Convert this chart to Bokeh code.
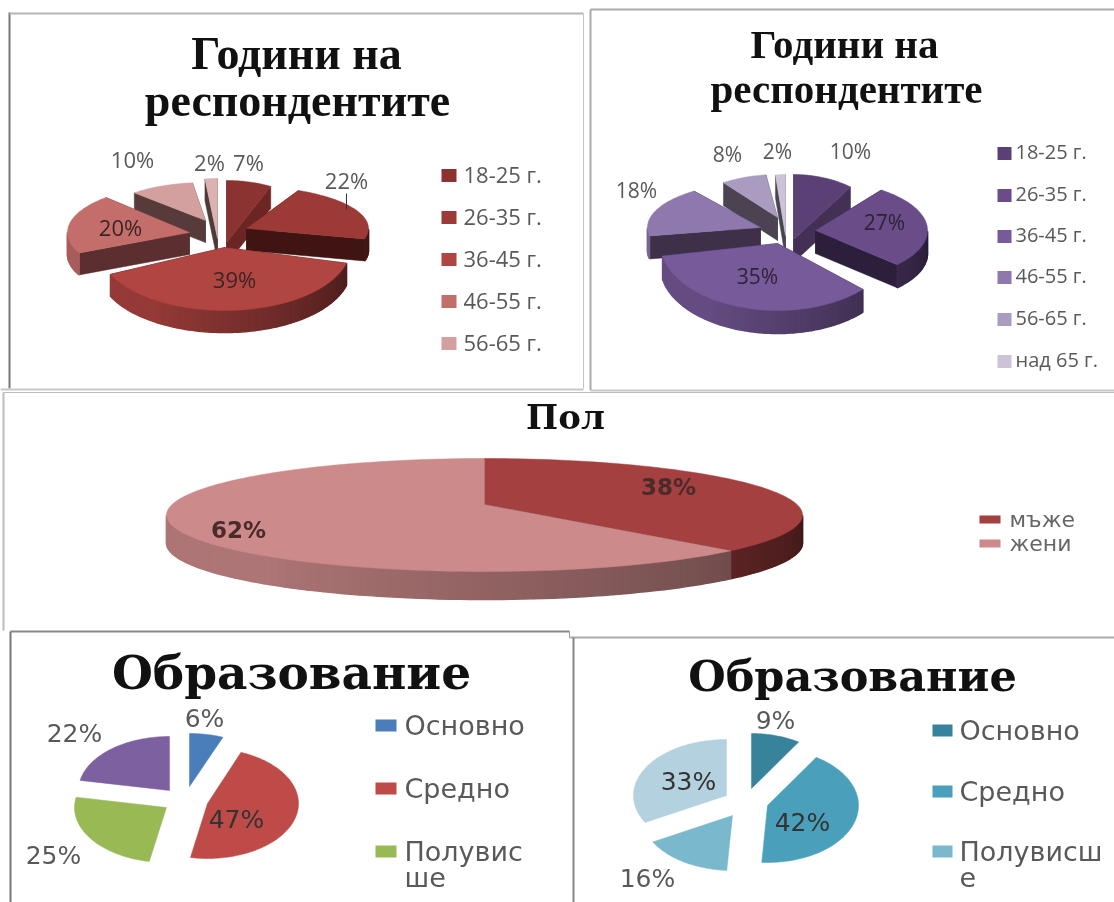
import math
from bokeh.plotting import figure
from bokeh.models import Range1d
from bokeh.core.properties import value
from bokeh.embed import file_html
from bokeh.resources import INLINE

# ---------- data ----------
age_cats_a = ["18-25 г.", "26-35 г.", "36-45 г.", "46-55 г.", "56-65 г."]
age_vals_a = [7, 22, 39, 20, 10, 2]
age_cats_b = ["18-25 г.", "26-35 г.", "36-45 г.", "46-55 г.", "56-65 г.", "над 65 г."]
age_vals_b = [10, 27, 35, 18, 8, 2]
sex_cats = ["мъже", "жени"]
sex_vals = [38, 62]
edu_cats_a = ["Основно", "Средно", "Полувис\nше"]
edu_vals_a = [6, 47, 25, 22]
edu_cats_b = ["Основно", "Средно", "Полувисш\nе"]
edu_vals_b = [9, 42, 16, 33]
title_age = ["Години на", "респондентите"]
title_sex = "Пол"
title_edu = "Образование"

# ---------- styles ----------
red_cols = ["#8a3330", "#9c3a37", "#b04542", "#c46e6c", "#d4a09f", "#dcb2b1"]
red_faces = ["#6b2624", "#3f1412", "#3f1412", "#5b2f2f", "#573a3a", "#4f3a3a"]
pur_cols = ["#5a4075", "#694c88", "#775a9a", "#8e78ad", "#aa9cc1", "#ccc3d8"]
pur_faces = ["#433055", "#2c1f3c", "#3a2a4d", "#3d3048", "#4b4252", "#4a4452"]
sex_cols = ["#a54040", "#cc8a8a"]
sex_faces = ["#45180f", "#4f3636"]
edu_cols_a = ["#4a7ebb", "#be4b48", "#98b954", "#7d60a0"]
edu_cols_b = ["#37839c", "#4aa0ba", "#7ab8ce", "#b3d1de"]

p = figure(width=1114, height=902, x_range=Range1d(0, 1114), y_range=Range1d(902, 0),
           toolbar_location=None, output_backend="svg", min_border=0,
           x_axis_type=None, y_axis_type=None)
p.outline_line_color = None
p.background_fill_color = "white"
p.border_fill_color = "white"


def shade(col, f):
    r, g, b = int(col[1:3], 16), int(col[3:5], 16), int(col[5:7], 16)
    return "#%02x%02x%02x" % (int(r * f), int(g * f), int(b * f))


def rim_factor(t):
    u = (t - 90) / 180
    return 0.38 + 0.47 * min(u / 0.7, 1)


def pie(vals, cols, faces, cx, cy, offs, rxs, rys, depth=0, tip=(0, 0), warp=0):
    total = sum(vals)
    spans, a = [], 0.0
    for v in vals:
        spans.append((a, a + 360 * v / total))
        a += 360 * v / total
    order = sorted(range(len(vals)), key=lambda i: -abs(sum(spans[i]) / 2 - 180))
    for i in order:
        a0, a1 = spans[i]
        ox, oy = offs[i]
        rx, ry = rxs[i], rys[i]
        n = max(4, int((a1 - a0) / 1.5))
        ts = [a0 + (a1 - a0) * k / n for k in range(n + 1)]
        warped = [t + warp * math.sin(math.radians(2 * t)) for t in ts]
        xs = [cx + ox + rx * math.sin(math.radians(t)) for t in warped]
        ys = [cy + oy - ry * math.cos(math.radians(t)) for t in warped]
        tx, ty = cx + ox + tip[0], cy + oy + tip[1]
        if depth:
            for ex, ey in ((xs[0], ys[0]), (xs[-1], ys[-1])):
                qx = [tx, ex, ex, tx]
                qy = [ty, ey, ey + depth, ty + depth]
                p.patch(qx, qy, fill_color=faces[i], line_color=faces[i], line_width=0.5)
            qxs, qys, qcs = [], [], []
            for k in range(n):
                mid = (ts[k] + ts[k + 1]) / 2
                if 90 <= mid <= 270:
                    qxs.append([xs[k], xs[k + 1], xs[k + 1], xs[k]])
                    qys.append([ys[k], ys[k + 1], ys[k + 1] + depth, ys[k] + depth])
                    qcs.append(shade(cols[i], rim_factor(mid)))
            if qxs:
                p.patches(qxs, qys, fill_color=qcs, line_color=qcs, line_width=1.5)
        p.patch([tx] + xs, [ty] + ys, fill_color=cols[i], line_color=cols[i], line_width=0.5)


def labels(xs, ys, txt, size, font="Open Sans", color="#595959", style="normal"):
    lift = 2 if font == "Open Sans" else 0
    p.text(x=xs, y=[y - lift for y in ys], text=txt, text_font=value(font), text_font_size=f"{size}px",
           text_color=color, text_align="center", text_baseline="middle",
           text_font_style=style)


def legend(cats, cols, x0, w, h, ys, tx, size, font="Open Sans", color="#595959", line_gap=26):
    lift = 2 if font == "Open Sans" else 0
    p.rect(x=[x0 + w / 2] * len(cats), y=ys[:len(cats)], width=w, height=h, fill_color=cols[:len(cats)],
           line_color=None)
    for c, y in zip(cats, ys):
        for j, part in enumerate(c.split("\n")):
            p.text(x=[tx], y=[y - lift + j * line_gap], text=[part], text_font=value(font),
                   text_font_size=f"{size}px", text_color=color, text_align="left",
                   text_baseline="middle")


def title(x, y, txt, size, font="Liberation Serif"):
    p.text(x=[x], y=[y], text=[txt], text_font=value(font), text_font_size=f"{size}px",
           text_font_style="bold", text_color="#111111", text_align="center", text_baseline="middle")


# ---------- frames ----------
frames = [([9, 9], [12, 388], "#777777", 2), ([9, 583], [13, 13], "#b5b5b5", 2), ([583, 583], [13, 388], "#c4c4c4", 1),
          ([0, 583], [389, 389], "#c8c8c8", 2),
          ([590, 590], [9, 390], "#aaaaaa", 2), ([590, 1114], [9, 9], "#aaaaaa", 2), ([590, 1114], [390, 390], "#c8c8c8", 2),
          ([3, 3], [392, 630], "#bbbbbb", 2), ([3, 1114], [392, 392], "#bbbbbb", 1),
          ([10, 569], [631, 631], "#888888", 2), ([569, 569], [631, 637], "#999999", 1),
          ([10, 10], [631, 902], "#777777", 2), ([569, 1114], [637, 637], "#aaaaaa", 2),
          ([573, 573], [637, 902], "#888888", 2)]
for fx, fy, fc, fw in frames:
    p.line(fx, fy, line_color=fc, line_width=fw)

# ---------- chart 1 ----------
title(296, 53, title_age[0], 46)
title(297, 100, title_age[1], 46)
pie(age_vals_a, red_cols, red_faces, 224, 247,
    [(2, -5), (22, -19), (0, 0), (-35, -15), (-19, -27), (-7, -9)],
    [104, 122, 126, 122, 104, 100], [62, 42, 63, 48, 38, 60], depth=22)
p.line([346, 346], [193, 209], line_color="#333333", line_width=1)
labels([248, 346, 132, 209], [163, 181, 160, 163], ["7%", "22%", "10%", "2%"], 22)
labels([234, 120], [280, 228], ["39%", "20%"], 22, color="#3a2424")
legend(age_cats_a, red_cols, 441, 15, 13, [175, 217, 259, 301, 343], 463, 22)

# ---------- chart 2 ----------
title(844, 43, title_age[0], 41)
title(846, 88, title_age[1], 41)
pie(age_vals_b, pur_cols, pur_faces, 777, 243,
    [(16, -4), (38, -13), (0, 0), (-17, -16), (0, -26), (8, -8)],
    [97, 112, 117, 113, 92, 80], [65, 50, 67, 45, 43, 61], depth=23)
labels([850, 777, 727, 636], [152, 152, 155, 191], ["10%", "2%", "8%", "18%"], 21)
labels([884, 757], [223, 277], ["27%", "35%"], 21, color="#2e2338")
legend(age_cats_b, pur_cols, 997, 14, 13, [153, 195, 236, 277, 319, 361], 1015, 20)

# ---------- chart 3 ----------
title(565, 416, title_sex, 34, font="DejaVu Serif")
pie(sex_vals, sex_cols, sex_faces, 484, 514.5, [(0, 0), (0, 0)], [318, 318], [56.5, 56.5],
    depth=28, tip=(0, -10.5), warp=7.5)
labels([668, 238], [486, 529], ["38%", "62%"], 23, font="DejaVu Sans", color="#4a2a2a", style="bold")
legend(sex_cats, sex_cols, 979, 21, 8, [519, 543], 1009, 22, font="DejaVu Sans", color="#666666")

# ---------- chart 4 ----------
title(291, 672, title_edu, 47, font="DejaVu Serif")
pie(edu_vals_a, edu_cols_a, None, 207, 803, [(-18, -17), (0, 0), (-41, 4), (-38, -13)],
    [91, 91, 92, 91], [53, 55, 55, 54])
labels([204, 74, 53], [718, 733, 855], ["6%", "22%", "25%"], 25, font="DejaVu Sans")
labels([236], [819], ["47%"], 25, font="DejaVu Sans", color="#333333")
legend(edu_cats_a, edu_cols_a, 375, 21, 12, [725, 788, 851], 404, 27, font="DejaVu Sans")

# ---------- chart 5 ----------
title(852, 675, title_edu, 43, font="DejaVu Serif")
pie(edu_vals_b, edu_cols_b, None, 767, 805, [(-16, -17), (0, 0), (-35, 10), (-41, -10)],
    [88, 91, 91, 93], [55, 57, 55, 56])
labels([775, 647], [720, 878], ["9%", "16%"], 25, font="DejaVu Sans")
labels([802, 688], [822, 781], ["42%", "33%"], 25, font="DejaVu Sans", color="#333333")
legend(edu_cats_b, edu_cols_b, 932, 20, 12, [730, 791, 851], 959, 27, font="DejaVu Sans")

html = file_html(p, INLINE)
html = html.replace("</head>", "<style>html,body{margin:0;padding:0;overflow:hidden}body{filter:blur(0.6px)}</style></head>", 1)
open("out.html", "w").write(html)
